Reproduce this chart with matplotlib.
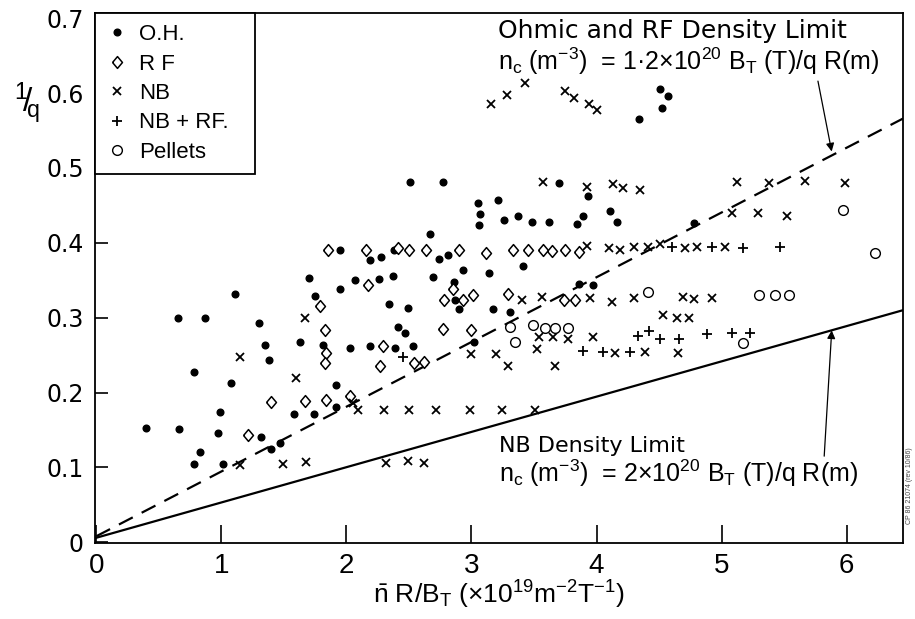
import matplotlib
matplotlib.use("Agg")
import matplotlib.pyplot as plt

plt.rcParams["font.family"] = ["Liberation Sans", "DejaVu Sans"]
plt.rcParams["mathtext.fontset"] = "dejavusans"
plt.rcParams["mathtext.default"] = "regular"

# O.H. (ohmic) discharges
oh_x = [1.95, 1.70, 1.95, 1.11, 1.75, 0.65, 0.87, 1.30, 1.35, 1.63, 1.81, 1.38, 0.78,
        1.08, 1.92, 1.92, 0.99, 1.58, 1.74, 0.40, 0.66, 0.97, 1.32, 1.47, 1.40, 0.83,
        0.78, 1.01, 2.51, 2.77, 3.70, 3.93, 3.05, 3.21, 3.07, 3.06, 3.26, 3.37, 3.48,
        3.62, 3.84, 3.89, 2.67, 2.19, 2.28, 2.38, 2.74, 2.81, 2.93, 3.14, 3.41, 2.07,
        2.26, 2.37, 2.69, 2.86, 3.86, 2.87, 2.34, 2.49, 2.90, 3.17, 3.31, 2.41, 2.47,
        3.02, 2.03, 2.19, 2.39, 2.53, 4.11, 4.16, 4.78, 3.97, 4.51, 4.57, 4.52, 4.34]
oh_y = [0.391, 0.353, 0.338, 0.331, 0.329, 0.299, 0.299, 0.293, 0.263, 0.268, 0.263,
        0.244, 0.228, 0.213, 0.210, 0.181, 0.174, 0.171, 0.171, 0.153, 0.151, 0.146,
        0.140, 0.133, 0.124, 0.121, 0.104, 0.105, 0.481, 0.481, 0.480, 0.462, 0.453,
        0.457, 0.438, 0.424, 0.431, 0.436, 0.428, 0.428, 0.425, 0.436, 0.412, 0.377,
        0.381, 0.391, 0.379, 0.384, 0.364, 0.360, 0.369, 0.350, 0.351, 0.356, 0.354,
        0.348, 0.345, 0.323, 0.318, 0.313, 0.311, 0.311, 0.308, 0.288, 0.280, 0.268,
        0.260, 0.262, 0.260, 0.262, 0.442, 0.428, 0.427, 0.344, 0.606, 0.596, 0.580,
        0.565]

# RF heated
rf_x = [1.85, 1.79, 1.83, 1.84, 1.83, 1.40, 1.67, 1.84, 1.21, 2.03, 2.16, 2.41, 2.50,
        2.64, 2.90, 3.12, 3.33, 3.45, 3.57, 3.64, 3.75, 3.86, 2.17, 2.85, 2.78, 2.93,
        3.01, 3.29, 3.74, 3.83, 2.77, 3.00, 2.29, 2.27, 2.54, 2.62]
rf_y = [0.391, 0.316, 0.283, 0.253, 0.240, 0.187, 0.189, 0.190, 0.143, 0.196, 0.391,
        0.393, 0.391, 0.391, 0.390, 0.387, 0.391, 0.391, 0.391, 0.389, 0.390, 0.388,
        0.343, 0.338, 0.323, 0.323, 0.330, 0.332, 0.323, 0.323, 0.285, 0.284, 0.262,
        0.236, 0.240, 0.241]

# neutral beam heated
nb_x = [1.67, 1.15, 1.60, 1.15, 1.49, 1.68, 3.57, 3.92, 3.92, 3.40, 3.56, 3.54, 3.65,
        3.77, 2.05, 2.09, 2.30, 2.50, 2.72, 2.99, 3.24, 3.51, 2.32, 2.49, 2.62, 3.00,
        3.20, 3.29, 3.52, 3.67, 4.13, 4.21, 4.35, 5.12, 5.38, 5.67, 5.99, 5.08, 5.29,
        5.52, 4.10, 4.19, 4.30, 4.41, 4.51, 4.71, 4.80, 5.03, 3.95, 4.12, 4.30, 4.69,
        4.78, 4.92, 4.53, 4.64, 4.74, 3.97, 4.15, 4.39, 4.65, 3.16, 3.28, 3.43, 3.75,
        3.82, 3.94, 4.00]
nb_y = [0.299, 0.248, 0.219, 0.103, 0.105, 0.107, 0.481, 0.475, 0.396, 0.324, 0.328,
        0.274, 0.274, 0.271, 0.186, 0.177, 0.177, 0.177, 0.177, 0.177, 0.177, 0.177,
        0.106, 0.108, 0.106, 0.251, 0.252, 0.236, 0.258, 0.236, 0.479, 0.473, 0.471,
        0.481, 0.480, 0.482, 0.480, 0.440, 0.440, 0.436, 0.393, 0.391, 0.394, 0.395,
        0.398, 0.393, 0.395, 0.395, 0.326, 0.321, 0.326, 0.328, 0.325, 0.326, 0.303,
        0.300, 0.300, 0.274, 0.253, 0.254, 0.253, 0.586, 0.597, 0.614, 0.603, 0.593,
        0.585, 0.578]

# NB + RF
nbrf_x = [2.45, 4.60, 4.92, 5.17, 5.47, 4.33, 4.42, 4.51, 4.66, 4.88, 5.08, 5.23,
          3.89, 4.05, 4.27]
nbrf_y = [0.247, 0.394, 0.394, 0.393, 0.395, 0.275, 0.282, 0.272, 0.272, 0.278,
          0.279, 0.280, 0.256, 0.254, 0.254]

# pellet fuelled
pel_x = [3.31, 3.49, 3.59, 3.67, 3.77, 3.35, 4.41, 5.30, 5.43, 5.54, 5.97, 6.23, 5.17]
pel_y = [0.288, 0.290, 0.286, 0.286, 0.286, 0.268, 0.334, 0.330, 0.330, 0.330, 0.444,
         0.386, 0.266]

# density limit lines
limit_x = [0.0, 6.45]
ohmic_limit = [0.008, 0.566]
nb_limit = [0.006, 0.310]

x_ticks = [0, 1, 2, 3, 4, 5, 6]
y_ticks = [0, 0.1, 0.2, 0.3, 0.4, 0.5, 0.6, 0.7]
y_tick_labels = ["0", "0.1", "0.2", "0.3", "0.4", "0.5", "0.6", "0.7"]

diamond = [(-0.42, 0), (0, 0.5), (0.42, 0), (0, -0.5), (-0.42, 0)]
narrow = ["Liberation Sans Narrow", "Liberation Sans"]
wide = ["DejaVu Sans"]

fig = plt.figure(figsize=(9.15, 6.19), dpi=100)
ax = fig.add_axes([95 / 915, 1 - 543 / 619, 808 / 915, 530 / 619])

ax.plot(limit_x, ohmic_limit, color="black", lw=1.6, dashes=(7, 4.5))
ax.plot(limit_x, nb_limit, color="black", lw=1.6)

ax.plot(oh_x, oh_y, "o", ms=4.8, color="black", ls="none", label="O.H.")
ax.plot(rf_x, rf_y, marker=diamond, ms=8.5, mfc="white", mec="black", mew=1.1,
        ls="none", label="R F")
ax.plot(nb_x, nb_y, "x", ms=5.8, color="black", mew=1.3, ls="none", label="NB")
ax.plot(nbrf_x, nbrf_y, "+", ms=7.5, color="black", mew=1.3, ls="none",
        label="NB + RF.")
ax.plot(pel_x, pel_y, "o", ms=7, mfc="white", mec="black", mew=1.0, ls="none",
        label="Pellets")

ax.set_xlim(-0.01, 6.45)
ax.set_ylim(-0.001, 0.707)
ax.set_xticks(x_ticks)
ax.set_yticks(y_ticks, y_tick_labels)
ax.tick_params(axis="x", direction="in", length=13, width=1.2, pad=7, labelsize=20,
               top=False)
ax.tick_params(axis="y", direction="in", length=9, width=1.2, pad=8, labelsize=17,
               right=False)
for lab in ax.get_xticklabels():
    lab.set_family(narrow)
for lab in ax.get_yticklabels():
    lab.set_family(wide)
for side in ax.spines.values():
    side.set_linewidth(1.3)

ax.set_xlabel(r"$\bar{n}$ R/B$_T$ (×10$^{19}$m$^{-2}$T$^{-1}$)", fontsize=19,
              family=narrow, labelpad=0)
fig.text(27 / 915, 1 - 104 / 619, r"$^1\!/\!_q$", fontsize=24, ha="center",
         va="center")

ax.text(3.21, 0.683, "Ohmic and RF Density Limit", fontsize=18, family=wide,
        ha="left", va="center")
ax.text(3.21, 0.643, r"n$_c$ (m$^{-3}$)  = 1·2×10$^{20}$ B$_T$ (T)/q R(m)",
        fontsize=18, ha="left", va="center")
ax.text(3.22, 0.129, "NB Density Limit", fontsize=16, family=wide, ha="left",
        va="center")
ax.text(3.22, 0.092, r"n$_c$ (m$^{-3}$)  = 2×10$^{20}$ B$_T$ (T)/q R(m)",
        fontsize=18, ha="left", va="center")

ax.annotate("", xy=(5.88, 0.522), xytext=(5.77, 0.616),
            arrowprops=dict(arrowstyle="-|>", color="black", lw=0.9,
                            mutation_scale=12, shrinkA=0, shrinkB=0))
ax.annotate("", xy=(5.88, 0.283), xytext=(5.82, 0.115),
            arrowprops=dict(arrowstyle="-|>", color="black", lw=0.9,
                            mutation_scale=12, shrinkA=0, shrinkB=0))

leg = ax.legend(loc="upper left", bbox_to_anchor=(0, 0, 160 / 808, 1),
                mode="expand", borderaxespad=0, fontsize=16, fancybox=False,
                framealpha=1, edgecolor="black", handlelength=1.0,
                handletextpad=0.5, labelspacing=0.38, borderpad=0.5)
leg.get_frame().set_linewidth(1.3)

fig.text(0.994, 0.215, "CP 86 21074 (rev 10/86)", fontsize=5, rotation=90,
         ha="center", va="center", color="#444444")

fig.savefig("out.png", dpi=100)
